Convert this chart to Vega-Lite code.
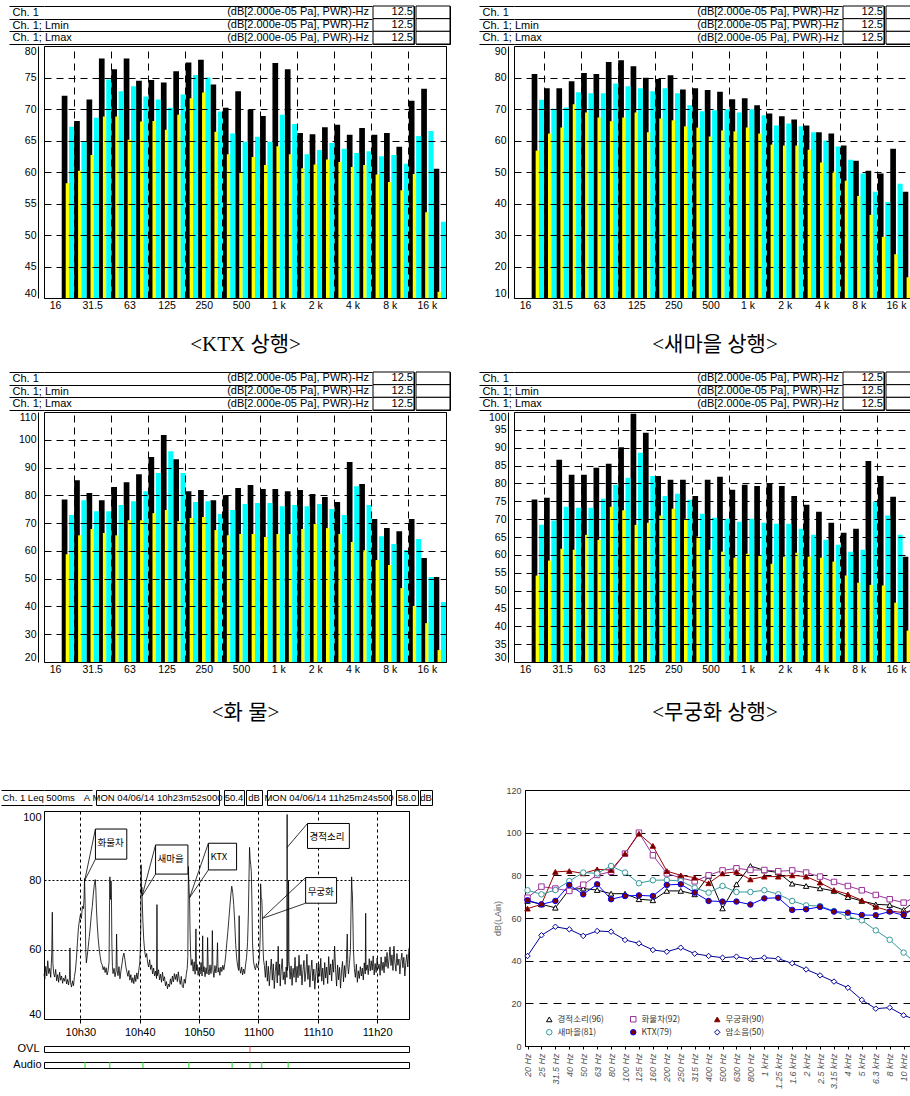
{
"$schema": "https://vega.github.io/schema/vega-lite/v6.json",
"background": "#ffffff",
"padding": {"left": 0, "top": 0, "right": 0, "bottom": 0},
"datasets": {
"hdr": [
{"row": 1, "name": "Ch.  1", "unit": "(dB[2.000e-05 Pa], PWR)-Hz", "res": "12.5"},
{"row": 2, "name": "Ch.  1; Lmin", "unit": "(dB[2.000e-05 Pa], PWR)-Hz", "res": "12.5"},
{"row": 3, "name": "Ch.  1; Lmax", "unit": "(dB[2.000e-05 Pa], PWR)-Hz", "res": "12.5"}
],
"ktx": [
{"band":"20","lmax":72.1,"lmin":58.2,"leq":67.2},{"band":"25","lmax":68.1,"lmin":60.2,"leq":64.8},{"band":"31.5","lmax":71.5,"lmin":62.7,"leq":68.6},{"band":"40","lmax":78.0,"lmin":68.8,"leq":74.7},{"band":"50","lmax":76.3,"lmin":68.8,"leq":72.8},{"band":"63","lmax":78.0,"lmin":65.1,"leq":73.6},{"band":"80","lmax":74.5,"lmin":68.0,"leq":72.0},{"band":"100","lmax":74.6,"lmin":68.1,"leq":71.5},{"band":"125","lmax":74.2,"lmin":66.7,"leq":70.2},{"band":"160","lmax":76.0,"lmin":69.1,"leq":72.3},{"band":"200","lmax":77.4,"lmin":71.7,"leq":75.4},{"band":"250","lmax":77.8,"lmin":72.6,"leq":75.0},{"band":"315","lmax":73.9,"lmin":66.4,"leq":69.6},{"band":"400","lmax":70.2,"lmin":62.8,"leq":66.1},{"band":"500","lmax":72.8,"lmin":59.9,"leq":64.8},{"band":"630","lmax":69.9,"lmin":62.4,"leq":65.6},{"band":"800","lmax":68.9,"lmin":61.1,"leq":64.8},{"band":"1 k","lmax":77.3,"lmin":64.1,"leq":69.1},{"band":"1.25 k","lmax":76.3,"lmin":62.8,"leq":67.6},{"band":"1.6 k","lmax":66.2,"lmin":60.6,"leq":62.8},{"band":"2 k","lmax":66.0,"lmin":61.2,"leq":63.5},{"band":"2.5 k","lmax":67.1,"lmin":62.0,"leq":64.6},{"band":"3.15 k","lmax":67.5,"lmin":61.6,"leq":63.7},{"band":"4 k","lmax":65.9,"lmin":60.8,"leq":63.0},{"band":"5 k","lmax":67.0,"lmin":61.1,"leq":63.3},{"band":"6.3 k","lmax":65.9,"lmin":59.6,"leq":62.5},{"band":"8 k","lmax":66.2,"lmin":58.4,"leq":62.7},{"band":"10 k","lmax":64.0,"lmin":57.1,"leq":61.3},{"band":"12.5 k","lmax":71.3,"lmin":59.7,"leq":65.7},{"band":"16 k","lmax":73.2,"lmin":53.6,"leq":66.5},{"band":"20 k","lmax":60.5,"lmin":41.0,"leq":52.1}
],
"saemaeul": [
{"band":"20","lmax":81.1,"lmin":56.8,"leq":72.9},{"band":"25","lmax":76.6,"lmin":62.2,"leq":70.1},{"band":"31.5","lmax":76.6,"lmin":64.1,"leq":70.5},{"band":"40","lmax":78.8,"lmin":71.5,"leq":75.3},{"band":"50","lmax":81.4,"lmin":68.9,"leq":75.0},{"band":"63","lmax":81.1,"lmin":67.3,"leq":75.0},{"band":"80","lmax":84.9,"lmin":66.1,"leq":78.1},{"band":"100","lmax":85.5,"lmin":67.3,"leq":77.2},{"band":"125","lmax":83.6,"lmin":68.9,"leq":76.6},{"band":"160","lmax":79.9,"lmin":62.6,"leq":75.6},{"band":"200","lmax":79.5,"lmin":67.0,"leq":76.6},{"band":"250","lmax":80.7,"lmin":66.4,"leq":75.0},{"band":"315","lmax":76.2,"lmin":64.5,"leq":71.2},{"band":"400","lmax":76.6,"lmin":64.1,"leq":69.3},{"band":"500","lmax":76.0,"lmin":61.3,"leq":69.6},{"band":"630","lmax":75.5,"lmin":63.2,"leq":69.9},{"band":"800","lmax":73.1,"lmin":62.9,"leq":68.9},{"band":"1 k","lmax":73.4,"lmin":64.1,"leq":69.9},{"band":"1.25 k","lmax":71.2,"lmin":62.2,"leq":68.0},{"band":"1.6 k","lmax":68.6,"lmin":58.7,"leq":64.8},{"band":"2 k","lmax":67.7,"lmin":58.4,"leq":65.4},{"band":"2.5 k","lmax":66.7,"lmin":58.4,"leq":64.5},{"band":"3.15 k","lmax":64.8,"lmin":57.1,"leq":62.6},{"band":"4 k","lmax":62.6,"lmin":53.0,"leq":60.0},{"band":"5 k","lmax":62.2,"lmin":50.1,"leq":58.1},{"band":"6.3 k","lmax":58.4,"lmin":47.2,"leq":53.9},{"band":"8 k","lmax":53.6,"lmin":42.4,"leq":49.5},{"band":"10 k","lmax":50.4,"lmin":36.4,"leq":43.7},{"band":"12.5 k","lmax":49.5,"lmin":29.4,"leq":40.5},{"band":"16 k","lmax":57.4,"lmin":23.9,"leq":46.3},{"band":"20 k","lmax":43.7,"lmin":16.6,"leq":31.3}
],
"freight": [
{"band":"20","lmax":78.5,"lmin":58.8,"leq":72.9},{"band":"25","lmax":85.4,"lmin":65.6,"leq":78.2},{"band":"31.5","lmax":80.8,"lmin":67.9,"leq":74.3},{"band":"40","lmax":78.2,"lmin":66.4,"leq":74.3},{"band":"50","lmax":83.0,"lmin":65.6,"leq":76.5},{"band":"63","lmax":84.7,"lmin":71.0,"leq":77.9},{"band":"80","lmax":87.6,"lmin":71.0,"leq":81.5},{"band":"100","lmax":93.8,"lmin":73.6,"leq":88.0},{"band":"125","lmax":101.7,"lmin":74.7,"leq":95.9},{"band":"160","lmax":93.0,"lmin":70.7,"leq":88.0},{"band":"200","lmax":81.5,"lmin":71.8,"leq":77.6},{"band":"250","lmax":81.9,"lmin":72.2,"leq":77.9},{"band":"315","lmax":78.2,"lmin":67.5,"leq":73.3},{"band":"400","lmax":80.0,"lmin":65.6,"leq":74.7},{"band":"500","lmax":82.6,"lmin":66.1,"leq":76.9},{"band":"630","lmax":83.7,"lmin":66.1,"leq":77.2},{"band":"800","lmax":82.3,"lmin":65.0,"leq":77.2},{"band":"1 k","lmax":82.3,"lmin":66.1,"leq":76.1},{"band":"1.25 k","lmax":81.5,"lmin":66.1,"leq":76.5},{"band":"1.6 k","lmax":81.9,"lmin":67.9,"leq":76.1},{"band":"2 k","lmax":80.5,"lmin":69.7,"leq":76.9},{"band":"2.5 k","lmax":79.4,"lmin":68.2,"leq":75.1},{"band":"3.15 k","lmax":77.6,"lmin":66.1,"leq":72.9},{"band":"4 k","lmax":92.0,"lmin":63.2,"leq":83.3},{"band":"5 k","lmax":84.1,"lmin":60.2,"leq":76.5},{"band":"6.3 k","lmax":71.5,"lmin":56.7,"leq":65.3},{"band":"8 k","lmax":68.2,"lmin":54.9,"leq":62.5},{"band":"10 k","lmax":67.1,"lmin":46.6,"leq":60.3},{"band":"12.5 k","lmax":71.5,"lmin":40.2,"leq":64.3},{"band":"16 k","lmax":57.4,"lmin":34.0,"leq":50.6},{"band":"20 k","lmax":50.6,"lmin":24.3,"leq":41.6}
],
"mugunghwa": [
{"band":"20","lmax":75.5,"lmin":54.2,"leq":68.4},{"band":"25","lmax":76.0,"lmin":58.4,"leq":69.6},{"band":"31.5","lmax":86.6,"lmin":61.7,"leq":73.5},{"band":"40","lmax":82.4,"lmin":61.4,"leq":73.2},{"band":"50","lmax":82.4,"lmin":65.6,"leq":73.2},{"band":"63","lmax":84.4,"lmin":64.2,"leq":75.7},{"band":"80","lmax":85.5,"lmin":73.5,"leq":79.6},{"band":"100","lmax":90.1,"lmin":72.5,"leq":81.6},{"band":"125","lmax":99.5,"lmin":68.4,"leq":88.6},{"band":"160","lmax":94.2,"lmin":69.0,"leq":82.1},{"band":"200","lmax":82.1,"lmin":71.0,"leq":76.5},{"band":"250","lmax":81.0,"lmin":72.9,"leq":77.1},{"band":"315","lmax":81.0,"lmin":70.1,"leq":75.4},{"band":"400","lmax":76.5,"lmin":65.1,"leq":71.5},{"band":"500","lmax":81.0,"lmin":61.4,"leq":70.4},{"band":"630","lmax":81.9,"lmin":60.9,"leq":70.1},{"band":"800","lmax":78.2,"lmin":59.2,"leq":69.3},{"band":"1 k","lmax":79.6,"lmin":60.3,"leq":70.1},{"band":"1.25 k","lmax":79.3,"lmin":59.8,"leq":69.0},{"band":"1.6 k","lmax":80.0,"lmin":57.5,"leq":68.7},{"band":"2 k","lmax":79.3,"lmin":59.5,"leq":68.7},{"band":"2.5 k","lmax":76.5,"lmin":60.6,"leq":67.3},{"band":"3.15 k","lmax":74.0,"lmin":59.5,"leq":65.6},{"band":"4 k","lmax":72.1,"lmin":59.2,"leq":64.2},{"band":"5 k","lmax":69.0,"lmin":58.1,"leq":62.8},{"band":"6.3 k","lmax":66.2,"lmin":54.2,"leq":60.9},{"band":"8 k","lmax":67.3,"lmin":52.2,"leq":61.4},{"band":"10 k","lmax":86.3,"lmin":51.6,"leq":75.0},{"band":"12.5 k","lmax":82.1,"lmin":51.4,"leq":71.0},{"band":"16 k","lmax":76.3,"lmin":46.6,"leq":65.6},{"band":"20 k","lmax":59.5,"lmin":38.8,"leq":53.3}
],
"ts": [
{"minute":23.867,"db":53.0},{"minute":24,"db":51.5},{"minute":24.167,"db":55.2},{"minute":24.333,"db":52.4},{"minute":24.5,"db":56.8},{"minute":24.667,"db":53.1},{"minute":24.833,"db":54.6},{"minute":25,"db":52.0},{"minute":25.167,"db":58.5},{"minute":25.267,"db":70.8},{"minute":25.367,"db":56.0},{"minute":25.5,"db":53.2},{"minute":25.667,"db":52.1},{"minute":25.833,"db":54.3},{"minute":26,"db":51.0},{"minute":26.167,"db":52.8},{"minute":26.333,"db":50.6},{"minute":26.5,"db":53.5},{"minute":26.667,"db":51.2},{"minute":26.833,"db":52.4},{"minute":27,"db":50.3},{"minute":27.167,"db":51.8},{"minute":27.333,"db":50.9},{"minute":27.5,"db":52.6},{"minute":27.667,"db":50.1},{"minute":27.833,"db":51.4},{"minute":28,"db":49.8},{"minute":28.167,"db":52.0},{"minute":28.233,"db":60.5},{"minute":28.333,"db":50.6},{"minute":28.5,"db":49.2},{"minute":28.667,"db":51.0},{"minute":28.833,"db":49.6},{"minute":29,"db":52.3},{"minute":29.167,"db":54.1},{"minute":29.333,"db":57.5},{"minute":29.5,"db":62.0},{"minute":29.667,"db":66.3},{"minute":29.833,"db":68.4},{"minute":30,"db":70.1},{"minute":30.167,"db":69.0},{"minute":30.333,"db":72.5},{"minute":30.5,"db":71.8},{"minute":30.6,"db":74.0},{"minute":30.7,"db":80.5},{"minute":30.8,"db":73.2},{"minute":30.9,"db":60.0},{"minute":31,"db":56.2},{"minute":31.167,"db":58.4},{"minute":31.333,"db":61.0},{"minute":31.5,"db":63.8},{"minute":31.667,"db":66.5},{"minute":31.833,"db":69.9},{"minute":32,"db":72.4},{"minute":32.167,"db":75.8},{"minute":32.333,"db":78.6},{"minute":32.5,"db":80.2},{"minute":32.6,"db":77.5},{"minute":32.7,"db":72.0},{"minute":32.833,"db":67.4},{"minute":33,"db":63.1},{"minute":33.167,"db":60.2},{"minute":33.333,"db":58.0},{"minute":33.5,"db":56.3},{"minute":33.667,"db":55.6},{"minute":33.833,"db":54.2},{"minute":34,"db":55.1},{"minute":34.167,"db":53.4},{"minute":34.333,"db":54.8},{"minute":34.5,"db":52.7},{"minute":34.667,"db":53.9},{"minute":34.833,"db":56.5},{"minute":34.9,"db":72.0},{"minute":34.967,"db":81.0},{"minute":35.033,"db":76.0},{"minute":35.1,"db":74.5},{"minute":35.167,"db":79.8},{"minute":35.233,"db":75.0},{"minute":35.3,"db":62.0},{"minute":35.4,"db":55.2},{"minute":35.5,"db":53.1},{"minute":35.667,"db":54.6},{"minute":35.833,"db":52.2},{"minute":36,"db":53.8},{"minute":36.1,"db":64.5},{"minute":36.2,"db":54.0},{"minute":36.333,"db":52.5},{"minute":36.5,"db":55.1},{"minute":36.667,"db":51.6},{"minute":36.833,"db":53.9},{"minute":37,"db":55.8},{"minute":37.167,"db":57.9},{"minute":37.333,"db":59.0},{"minute":37.5,"db":57.2},{"minute":37.667,"db":55.0},{"minute":37.833,"db":53.6},{"minute":38,"db":52.3},{"minute":38.167,"db":54.0},{"minute":38.333,"db":51.2},{"minute":38.5,"db":52.8},{"minute":38.667,"db":50.5},{"minute":38.833,"db":51.9},{"minute":39,"db":50.2},{"minute":39.167,"db":52.7},{"minute":39.333,"db":50.8},{"minute":39.5,"db":53.3},{"minute":39.667,"db":51.5},{"minute":39.833,"db":54.0},{"minute":40,"db":56.2},{"minute":40.1,"db":60.0},{"minute":40.167,"db":66.0},{"minute":40.233,"db":84.5},{"minute":40.3,"db":76.0},{"minute":40.367,"db":78.0},{"minute":40.433,"db":73.5},{"minute":40.533,"db":68.0},{"minute":40.667,"db":63.0},{"minute":40.833,"db":59.5},{"minute":41,"db":57.8},{"minute":41.167,"db":58.9},{"minute":41.333,"db":56.2},{"minute":41.5,"db":55.0},{"minute":41.667,"db":57.1},{"minute":41.833,"db":54.3},{"minute":42,"db":55.6},{"minute":42.167,"db":53.0},{"minute":42.333,"db":54.7},{"minute":42.5,"db":52.4},{"minute":42.667,"db":53.8},{"minute":42.833,"db":51.7},{"minute":42.9,"db":73.0},{"minute":42.967,"db":52.5},{"minute":43.167,"db":54.2},{"minute":43.333,"db":51.3},{"minute":43.5,"db":52.9},{"minute":43.667,"db":50.6},{"minute":43.833,"db":53.5},{"minute":44,"db":51.0},{"minute":44.167,"db":52.2},{"minute":44.333,"db":49.6},{"minute":44.5,"db":50.8},{"minute":44.667,"db":48.7},{"minute":44.833,"db":50.1},{"minute":45,"db":49.3},{"minute":45.167,"db":51.6},{"minute":45.333,"db":50.0},{"minute":45.5,"db":52.4},{"minute":45.667,"db":50.7},{"minute":45.833,"db":53.1},{"minute":46,"db":51.4},{"minute":46.167,"db":52.9},{"minute":46.333,"db":50.8},{"minute":46.5,"db":53.6},{"minute":46.667,"db":51.2},{"minute":46.833,"db":50.0},{"minute":47,"db":52.3},{"minute":47.167,"db":49.4},{"minute":47.333,"db":49.0},{"minute":47.5,"db":51.5},{"minute":47.667,"db":50.3},{"minute":47.833,"db":52.8},{"minute":48,"db":54.6},{"minute":48.1,"db":58.0},{"minute":48.2,"db":84.0},{"minute":48.267,"db":79.5},{"minute":48.333,"db":76.5},{"minute":48.4,"db":75.0},{"minute":48.467,"db":66.0},{"minute":48.567,"db":59.0},{"minute":48.667,"db":55.5},{"minute":48.833,"db":57.2},{"minute":49,"db":53.8},{"minute":49.167,"db":56.5},{"minute":49.333,"db":52.9},{"minute":49.467,"db":66.0},{"minute":49.567,"db":54.0},{"minute":49.667,"db":55.7},{"minute":49.833,"db":52.6},{"minute":50,"db":54.9},{"minute":50.167,"db":53.0},{"minute":50.333,"db":56.3},{"minute":50.5,"db":52.4},{"minute":50.6,"db":64.0},{"minute":50.7,"db":53.6},{"minute":50.833,"db":55.1},{"minute":51,"db":52.2},{"minute":51.167,"db":54.8},{"minute":51.333,"db":53.0},{"minute":51.433,"db":63.5},{"minute":51.533,"db":54.5},{"minute":51.667,"db":52.7},{"minute":51.833,"db":55.6},{"minute":52,"db":53.1},{"minute":52.167,"db":56.0},{"minute":52.233,"db":65.5},{"minute":52.333,"db":54.2},{"minute":52.5,"db":52.0},{"minute":52.667,"db":55.4},{"minute":52.833,"db":53.3},{"minute":53,"db":55.9},{"minute":53.1,"db":62.0},{"minute":53.2,"db":53.5},{"minute":53.333,"db":54.8},{"minute":53.5,"db":52.6},{"minute":53.667,"db":55.0},{"minute":53.833,"db":53.7},{"minute":54,"db":55.5},{"minute":54.167,"db":54.2},{"minute":54.333,"db":56.0},{"minute":54.5,"db":58.5},{"minute":54.667,"db":62.0},{"minute":54.833,"db":65.0},{"minute":55,"db":68.5},{"minute":55.167,"db":72.0},{"minute":55.333,"db":75.5},{"minute":55.5,"db":78.3},{"minute":55.667,"db":76.5},{"minute":55.833,"db":73.0},{"minute":56,"db":68.0},{"minute":56.167,"db":61.5},{"minute":56.333,"db":57.5},{"minute":56.5,"db":55.2},{"minute":56.667,"db":54.0},{"minute":56.75,"db":69.8},{"minute":56.833,"db":54.8},{"minute":57,"db":53.2},{"minute":57.167,"db":55.0},{"minute":57.333,"db":52.7},{"minute":57.5,"db":54.4},{"minute":57.667,"db":53.1},{"minute":57.833,"db":55.6},{"minute":58,"db":57.8},{"minute":58.167,"db":62.0},{"minute":58.3,"db":70.0},{"minute":58.4,"db":80.0},{"minute":58.5,"db":89.5},{"minute":58.6,"db":86.0},{"minute":58.7,"db":84.5},{"minute":58.8,"db":82.5},{"minute":58.9,"db":74.0},{"minute":59,"db":62.0},{"minute":59.167,"db":56.5},{"minute":59.333,"db":55.0},{"minute":59.5,"db":54.2},{"minute":59.667,"db":56.0},{"minute":59.833,"db":54.8},{"minute":60,"db":55.5},{"minute":60.167,"db":58.0},{"minute":60.3,"db":64.0},{"minute":60.367,"db":79.0},{"minute":60.467,"db":75.0},{"minute":60.567,"db":74.5},{"minute":60.667,"db":69.0},{"minute":60.767,"db":61.0},{"minute":60.867,"db":57.0},{"minute":61,"db":55.4},{"minute":61.167,"db":52.0},{"minute":61.333,"db":56.8},{"minute":61.5,"db":50.9},{"minute":61.667,"db":55.2},{"minute":61.833,"db":49.6},{"minute":62,"db":54.0},{"minute":62.167,"db":57.3},{"minute":62.333,"db":51.2},{"minute":62.5,"db":55.9},{"minute":62.667,"db":48.8},{"minute":62.833,"db":53.7},{"minute":63,"db":56.5},{"minute":63.167,"db":50.4},{"minute":63.333,"db":61.0},{"minute":63.433,"db":52.6},{"minute":63.567,"db":55.8},{"minute":63.667,"db":49.5},{"minute":63.833,"db":54.1},{"minute":64,"db":57.4},{"minute":64.167,"db":51.3},{"minute":64.333,"db":53.6},{"minute":64.5,"db":50.0},{"minute":64.667,"db":55.0},{"minute":64.8,"db":52.0},{"minute":64.833,"db":99.0},{"minute":64.867,"db":54.0},{"minute":65,"db":56.0},{"minute":65.067,"db":80.0},{"minute":65.1,"db":74.0},{"minute":65.133,"db":57.0},{"minute":65.333,"db":51.5},{"minute":65.5,"db":55.3},{"minute":65.667,"db":49.7},{"minute":65.833,"db":54.6},{"minute":66,"db":52.0},{"minute":66.167,"db":57.8},{"minute":66.333,"db":50.6},{"minute":66.5,"db":55.2},{"minute":66.667,"db":51.9},{"minute":66.833,"db":58.4},{"minute":67,"db":52.5},{"minute":67.167,"db":55.7},{"minute":67.333,"db":49.8},{"minute":67.5,"db":54.0},{"minute":67.667,"db":56.9},{"minute":67.833,"db":50.8},{"minute":68,"db":53.6},{"minute":68.167,"db":58.7},{"minute":68.333,"db":51.4},{"minute":68.5,"db":55.5},{"minute":68.667,"db":49.2},{"minute":68.833,"db":53.8},{"minute":69,"db":57.0},{"minute":69.167,"db":51.0},{"minute":69.333,"db":54.4},{"minute":69.5,"db":48.6},{"minute":69.667,"db":53.2},{"minute":69.833,"db":56.1},{"minute":70,"db":50.4},{"minute":70.167,"db":55.8},{"minute":70.333,"db":52.3},{"minute":70.5,"db":57.5},{"minute":70.667,"db":50.9},{"minute":70.833,"db":54.7},{"minute":71,"db":49.9},{"minute":71.167,"db":56.3},{"minute":71.333,"db":51.8},{"minute":71.5,"db":55.0},{"minute":71.667,"db":50.2},{"minute":71.833,"db":58.0},{"minute":72,"db":52.7},{"minute":72.167,"db":55.9},{"minute":72.333,"db":51.0},{"minute":72.5,"db":57.1},{"minute":72.667,"db":53.5},{"minute":72.833,"db":61.0},{"minute":73,"db":54.2},{"minute":73.167,"db":49.5},{"minute":73.333,"db":55.6},{"minute":73.5,"db":51.3},{"minute":73.667,"db":54.9},{"minute":73.833,"db":48.9},{"minute":74,"db":53.8},{"minute":74.167,"db":56.6},{"minute":74.333,"db":50.7},{"minute":74.5,"db":55.4},{"minute":74.667,"db":52.0},{"minute":74.833,"db":57.2},{"minute":74.967,"db":64.5},{"minute":75.067,"db":55.0},{"minute":75.167,"db":53.0},{"minute":75.333,"db":56.0},{"minute":75.5,"db":60.0},{"minute":75.6,"db":72.0},{"minute":75.7,"db":81.0},{"minute":75.767,"db":77.5},{"minute":75.833,"db":76.0},{"minute":75.9,"db":70.0},{"minute":76,"db":60.0},{"minute":76.167,"db":54.5},{"minute":76.333,"db":52.0},{"minute":76.5,"db":55.8},{"minute":76.667,"db":50.6},{"minute":76.833,"db":53.9},{"minute":77,"db":51.7},{"minute":77.167,"db":55.1},{"minute":77.333,"db":52.4},{"minute":77.5,"db":54.7},{"minute":77.667,"db":51.3},{"minute":77.833,"db":56.2},{"minute":78,"db":53.0},{"minute":78.067,"db":70.5},{"minute":78.133,"db":54.0},{"minute":78.333,"db":55.6},{"minute":78.5,"db":52.8},{"minute":78.667,"db":57.4},{"minute":78.833,"db":53.9},{"minute":79,"db":56.8},{"minute":79.167,"db":54.1},{"minute":79.333,"db":58.2},{"minute":79.5,"db":52.7},{"minute":79.667,"db":56.0},{"minute":79.833,"db":53.4},{"minute":80,"db":57.6},{"minute":80.167,"db":54.5},{"minute":80.333,"db":55.8},{"minute":80.5,"db":52.6},{"minute":80.667,"db":57.9},{"minute":80.833,"db":54.0},{"minute":81,"db":56.4},{"minute":81.167,"db":53.3},{"minute":81.333,"db":58.0},{"minute":81.5,"db":55.1},{"minute":81.667,"db":59.2},{"minute":81.833,"db":54.6},{"minute":82,"db":57.0},{"minute":82.167,"db":60.8},{"minute":82.333,"db":55.4},{"minute":82.5,"db":58.5},{"minute":82.667,"db":54.0},{"minute":82.833,"db":61.0},{"minute":83,"db":56.2},{"minute":83.167,"db":53.8},{"minute":83.333,"db":58.9},{"minute":83.5,"db":55.5},{"minute":83.667,"db":57.3},{"minute":83.833,"db":53.0},{"minute":84,"db":56.7},{"minute":84.167,"db":59.0},{"minute":84.333,"db":54.8},{"minute":84.5,"db":57.8},{"minute":84.667,"db":52.4},{"minute":84.833,"db":56.3},{"minute":85,"db":58.6},{"minute":85.167,"db":55.0},{"minute":85.367,"db":60.5}
],
"ann": [
{"label":"화물차","minute":30.733,"db":80.0,"bt1":32.533,"bt2":37.817,"bdb1":94.8,"bdb2":86.1},
{"label":"새마을","minute":40.4,"db":75.5,"bt1":42.667,"bt2":48.117,"bdb1":90.2,"bdb2":81.8},
{"label":"KTX","minute":48.4,"db":75.0,"bt1":51.567,"bt2":56.317,"bdb1":90.7,"bdb2":83.0},
{"label":"경적소리","minute":64.833,"db":89.5,"bt1":68.267,"bt2":75.317,"bdb1":96.4,"bdb2":89.2},
{"label":"무궁화","minute":60.633,"db":69.0,"bt1":67.95,"bt2":73.167,"bdb1":80.8,"bdb2":73.4}
],
"spec": [
{"band":"20 Hz","경적소리(96)":68.0,"화물차(92)":69.5,"무궁화(90)":64.4,"새마을(81)":73.0,"KTX(79)":68.3,"암소음(50)":42.2},
{"band":"25 Hz","경적소리(96)":66.4,"화물차(92)":74.7,"무궁화(90)":66.4,"새마을(81)":71.1,"KTX(79)":66.4,"암소음(50)":51.9},
{"band":"31.5 Hz","경적소리(96)":64.8,"화물차(92)":73.8,"무궁화(90)":81.6,"새마을(81)":73.1,"KTX(79)":68.0,"암소음(50)":55.9},
{"band":"40 Hz","경적소리(96)":73.4,"화물차(92)":72.7,"무궁화(90)":82.0,"새마을(81)":77.3,"KTX(79)":75.5,"암소음(50)":54.7},
{"band":"50 Hz","경적소리(96)":73.8,"화물차(92)":75.6,"무궁화(90)":80.9,"새마을(81)":81.3,"KTX(79)":71.1,"암소음(50)":51.6},
{"band":"63 Hz","경적소리(96)":73.1,"화물차(92)":80.2,"무궁화(90)":82.8,"새마을(81)":80.9,"KTX(79)":75.8,"암소음(50)":53.9},
{"band":"80 Hz","경적소리(96)":71.4,"화물차(92)":81.7,"무궁화(90)":82.5,"새마을(81)":84.4,"KTX(79)":68.8,"암소음(50)":53.6},
{"band":"100 Hz","경적소리(96)":71.4,"화물차(92)":90.2,"무궁화(90)":90.2,"새마을(81)":81.3,"KTX(79)":70.3,"암소음(50)":49.7},
{"band":"125 Hz","경적소리(96)":68.8,"화물차(92)":100.0,"무궁화(90)":99.5,"새마을(81)":76.3,"KTX(79)":70.6,"암소음(50)":48.1},
{"band":"160 Hz","경적소리(96)":68.3,"화물차(92)":89.4,"무궁화(90)":93.8,"새마을(81)":77.7,"KTX(79)":70.3,"암소음(50)":45.0},
{"band":"200 Hz","경적소리(96)":72.7,"화물차(92)":80.9,"무궁화(90)":82.0,"새마을(81)":77.8,"KTX(79)":75.5,"암소음(50)":44.2},
{"band":"250 Hz","경적소리(96)":72.7,"화물차(92)":78.8,"무궁화(90)":80.0,"새마을(81)":77.3,"KTX(79)":75.8,"암소음(50)":46.1},
{"band":"315 Hz","경적소리(96)":71.1,"화물차(92)":77.2,"무궁화(90)":78.9,"새마을(81)":74.2,"KTX(79)":71.9,"암소음(50)":43.3},
{"band":"400 Hz","경적소리(96)":79.7,"화물차(92)":80.0,"무궁화(90)":76.3,"새마을(81)":71.9,"KTX(79)":68.0,"암소음(50)":42.2},
{"band":"500 Hz","경적소리(96)":64.5,"화물차(92)":82.3,"무궁화(90)":80.9,"새마을(81)":75.0,"KTX(79)":67.7,"암소음(50)":41.4},
{"band":"630 Hz","경적소리(96)":75.8,"화물차(92)":83.3,"무궁화(90)":81.6,"새마을(81)":72.2,"KTX(79)":67.7,"암소음(50)":41.9},
{"band":"800 Hz","경적소리(96)":84.4,"화물차(92)":82.5,"무궁화(90)":78.1,"새마을(81)":72.2,"KTX(79)":66.3,"암소음(50)":40.6},
{"band":"1 kHz","경적소리(96)":82.3,"화물차(92)":82.5,"무궁화(90)":79.4,"새마을(81)":73.0,"KTX(79)":69.2,"암소음(50)":41.4},
{"band":"1.25 kHz","경적소리(96)":81.3,"화물차(92)":81.9,"무궁화(90)":79.4,"새마을(81)":71.1,"KTX(79)":69.5,"암소음(50)":40.9},
{"band":"1.6 kHz","경적소리(96)":76.1,"화물차(92)":82.3,"무궁화(90)":80.0,"새마을(81)":68.0,"KTX(79)":63.8,"암소음(50)":38.8},
{"band":"2 kHz","경적소리(96)":75.0,"화물차(92)":81.3,"무궁화(90)":79.4,"새마을(81)":65.9,"KTX(79)":64.1,"암소음(50)":35.9},
{"band":"2.5 kHz","경적소리(96)":73.9,"화물차(92)":79.4,"무궁화(90)":76.6,"새마을(81)":65.6,"KTX(79)":65.2,"암소음(50)":33.1},
{"band":"3.15 kHz","경적소리(96)":72.7,"화물차(92)":76.9,"무궁화(90)":73.1,"새마을(81)":63.3,"KTX(79)":63.0,"암소음(50)":30.2},
{"band":"4 kHz","경적소리(96)":69.8,"화물차(92)":75.0,"무궁화(90)":71.1,"새마을(81)":60.6,"KTX(79)":62.5,"암소음(50)":27.3},
{"band":"5 kHz","경적소리(96)":68.0,"화물차(92)":73.0,"무궁화(90)":68.3,"새마을(81)":58.9,"KTX(79)":61.4,"암소음(50)":21.6},
{"band":"6.3 kHz","경적소리(96)":66.4,"화물차(92)":70.8,"무궁화(90)":65.2,"새마을(81)":54.2,"KTX(79)":61.3,"암소음(50)":17.5},
{"band":"8 kHz","경적소리(96)":66.1,"화물차(92)":68.8,"무궁화(90)":63.3,"새마을(81)":49.8,"KTX(79)":63.0,"암소음(50)":18.0},
{"band":"10 kHz","경적소리(96)":63.8,"화물차(92)":67.2,"무궁화(90)":62.5,"새마을(81)":43.8,"KTX(79)":61.3,"암소음(50)":14.4},
{"band":"12.5 kHz","경적소리(96)":68.8,"화물차(92)":70.3,"무궁화(90)":64.4,"새마을(81)":38.0,"KTX(79)":65.6,"암소음(50)":12.0},
{"band":"16 kHz","경적소리(96)":62.5,"화물차(92)":57.5,"무궁화(90)":59.4,"새마을(81)":32.0,"KTX(79)":63.0,"암소음(50)":11.3}
]
},
"vconcat": [
{"vconcat": [
{"hconcat": [
{"vconcat": [
{"hconcat": [
{"width": 328, "height": 38, "data": {"name": "hdr"}, "view": {"stroke": null},
"mark": {"type": "text", "align": "right", "dx": -3, "font": "Liberation Sans", "fontSize": 11, "color": "#000000"},
"encoding": {"y": {"field": "name", "type": "ordinal", "sort": null, "scale": {"type": "band", "paddingInner": 0, "paddingOuter": 0}, "axis": {"title": null, "domain": false, "ticks": true, "tickBand": "extent", "tickSize": 35, "tickColor": "#000000", "grid": true, "gridColor": "#000000", "gridOpacity": 1, "labelAlign": "left", "labelPadding": -3, "labelFont": "Liberation Sans", "labelFontSize": 11, "labelColor": "#000000", "labelLimit": 0, "zindex": 1}},
"x": {"datum": 1, "type": "quantitative", "scale": {"domain": [0, 1]}, "axis": null}, "text": {"field": "unit"}}},
{"width": 41, "height": 38, "data": {"name": "hdr"}, "encoding": {"y": {"field": "row", "type": "ordinal", "axis": null}},
"layer": [
{"mark": {"type": "rect", "fill": "#ffffff", "stroke": "#000000", "strokeWidth": 1}, "encoding": {"x": {"datum": 0, "type": "quantitative", "scale": {"domain": [0, 1]}, "axis": null}, "x2": {"datum": 1}}},
{"mark": {"type": "text", "align": "right", "dx": -1, "font": "Liberation Sans", "fontSize": 11, "color": "#000000"}, "encoding": {"x": {"datum": 1, "type": "quantitative", "axis": null}, "text": {"field": "res"}}}
]},
{"width": 34, "height": 38, "data": {"name": "hdr"}, "mark": {"type": "rect", "fill": "#ffffff", "stroke": "#000000", "strokeWidth": 1},
"encoding": {"y": {"field": "row", "type": "ordinal", "axis": null}, "x": {"datum": 0, "type": "quantitative", "scale": {"domain": [0, 1]}, "axis": null}, "x2": {"datum": 1}}}
], "spacing": 0},
{"width": 402, "height": 252, "data": {"name": "ktx"},
"transform": [{"fold": ["lmax", "lmin", "leq"], "as": ["series", "db"]}],
"encoding": {"y": {"field": "db", "type": "quantitative", "scale": {"domain": [40, 80], "zero": false, "nice": false},
"axis": {"values": [40,45,50,55,60,65,70,75,80], "title": null, "offset": 6, "ticks": false, "labelPadding": 2, "labelFlush": true, "labelFont": "Liberation Sans", "labelFontSize": 10.5, "labelColor": "#000000", "domainColor": "#000000", "grid": true, "gridColor": "#000000", "gridDash": [7, 5], "gridOpacity": 1, "zindex": 1}}},
"layer": [
{"transform": [{"filter": "datum.series === 'lmax'"}], "mark": {"type": "bar", "color": "#000000", "width": {"band": 0.46}, "xOffset": -3.35, "clip": true},
"encoding": {"x": {"field": "band", "type": "ordinal", "scale": {"domain": ["16","20","25","31.5","40","50","63","80","100","125","160","200","250","315","400","500","630","800","1 k","1.25 k","1.6 k","2 k","2.5 k","3.15 k","4 k","5 k","6.3 k","8 k","10 k","12.5 k","16 k","20 k"], "paddingInner": 0, "paddingOuter": 0.215, "align": 1},
"axis": {"orient": "bottom", "values": ["16","31.5","63","125","250","500","1 k","2 k","4 k","8 k","16 k"], "labelAngle": 0, "labelOverlap": false, "ticks": false, "domain": false, "grid": false, "labelPadding": 2, "labelFont": "Liberation Sans Narrow, Liberation Sans", "labelFontSize": 10.5, "labelColor": "#000000", "title": "<KTX 상행>\u00a0\u00a0\u00a0\u00a0\u00a0\u00a0\u00a0\u00a0\u00a0\u00a0\u00a0", "titleFont": "Liberation Serif, Noto Sans CJK KR", "titleFontSize": 21, "titleFontWeight": "normal", "titleColor": "#000000", "titlePadding": 23}}}},
{"transform": [{"filter": "datum.series === 'lmin'"}], "mark": {"type": "bar", "color": "#ffff00", "width": {"band": 0.27}, "xOffset": -0.55, "clip": true},
"encoding": {"x": {"field": "band", "type": "ordinal", "axis": {"orient": "top", "values": ["25","50","100","200","400","800","1.6 k","3.15 k","6.3 k","12.5 k"], "bandPosition": 0, "grid": true, "gridColor": "#000000", "gridDash": [7, 5], "gridOpacity": 1, "labels": false, "ticks": false, "domain": false, "title": null, "zindex": 1}}}},
{"transform": [{"filter": "datum.series === 'leq'"}], "mark": {"type": "bar", "color": "#00ffff", "width": {"band": 0.41}, "xOffset": 3.65, "clip": true},
"encoding": {"x": {"field": "band", "type": "ordinal", "axis": null}}}
],
"resolve": {"axis": {"x": "independent"}}}
], "spacing": 0},
{"vconcat": [
{"hconcat": [
{"width": 328, "height": 38, "data": {"name": "hdr"}, "view": {"stroke": null},
"mark": {"type": "text", "align": "right", "dx": -3, "font": "Liberation Sans", "fontSize": 11, "color": "#000000"},
"encoding": {"y": {"field": "name", "type": "ordinal", "sort": null, "scale": {"type": "band", "paddingInner": 0, "paddingOuter": 0}, "axis": {"title": null, "domain": false, "ticks": true, "tickBand": "extent", "tickSize": 35, "tickColor": "#000000", "grid": true, "gridColor": "#000000", "gridOpacity": 1, "labelAlign": "left", "labelPadding": -3, "labelFont": "Liberation Sans", "labelFontSize": 11, "labelColor": "#000000", "labelLimit": 0, "zindex": 1}},
"x": {"datum": 1, "type": "quantitative", "scale": {"domain": [0, 1]}, "axis": null}, "text": {"field": "unit"}}},
{"width": 41, "height": 38, "data": {"name": "hdr"}, "encoding": {"y": {"field": "row", "type": "ordinal", "axis": null}},
"layer": [
{"mark": {"type": "rect", "fill": "#ffffff", "stroke": "#000000", "strokeWidth": 1}, "encoding": {"x": {"datum": 0, "type": "quantitative", "scale": {"domain": [0, 1]}, "axis": null}, "x2": {"datum": 1}}},
{"mark": {"type": "text", "align": "right", "dx": -1, "font": "Liberation Sans", "fontSize": 11, "color": "#000000"}, "encoding": {"x": {"datum": 1, "type": "quantitative", "axis": null}, "text": {"field": "res"}}}
]},
{"width": 32, "height": 38, "data": {"name": "hdr"}, "mark": {"type": "rect", "fill": "#ffffff", "stroke": "#000000", "strokeWidth": 1},
"encoding": {"y": {"field": "row", "type": "ordinal", "axis": null}, "x": {"datum": 0, "type": "quantitative", "scale": {"domain": [0, 1]}, "axis": null}, "x2": {"datum": 1}}}
], "spacing": 0},
{"width": 401, "height": 252, "data": {"name": "saemaeul"},
"transform": [{"fold": ["lmax", "lmin", "leq"], "as": ["series", "db"]}],
"encoding": {"y": {"field": "db", "type": "quantitative", "scale": {"domain": [10, 90], "zero": false, "nice": false},
"axis": {"values": [10,20,30,40,50,60,70,80,90], "title": null, "offset": 6, "ticks": false, "labelPadding": 2, "labelFlush": true, "labelFont": "Liberation Sans", "labelFontSize": 10.5, "labelColor": "#000000", "domainColor": "#000000", "grid": true, "gridColor": "#000000", "gridDash": [7, 5], "gridOpacity": 1, "zindex": 1}}},
"layer": [
{"transform": [{"filter": "datum.series === 'lmax'"}], "mark": {"type": "bar", "color": "#000000", "width": {"band": 0.46}, "xOffset": -3.35, "clip": true},
"encoding": {"x": {"field": "band", "type": "ordinal", "scale": {"domain": ["16","20","25","31.5","40","50","63","80","100","125","160","200","250","315","400","500","630","800","1 k","1.25 k","1.6 k","2 k","2.5 k","3.15 k","4 k","5 k","6.3 k","8 k","10 k","12.5 k","16 k","20 k"], "paddingInner": 0, "paddingOuter": 0.215, "align": 1},
"axis": {"orient": "bottom", "values": ["16","31.5","63","125","250","500","1 k","2 k","4 k","8 k","16 k"], "labelAngle": 0, "labelOverlap": false, "ticks": false, "domain": false, "grid": false, "labelPadding": 2, "labelFont": "Liberation Sans Narrow, Liberation Sans", "labelFontSize": 10.5, "labelColor": "#000000", "title": "<새마을 상행>", "titleFont": "Liberation Serif, Noto Sans CJK KR", "titleFontSize": 21, "titleFontWeight": "normal", "titleColor": "#000000", "titlePadding": 23}}}},
{"transform": [{"filter": "datum.series === 'lmin'"}], "mark": {"type": "bar", "color": "#ffff00", "width": {"band": 0.27}, "xOffset": -0.55, "clip": true},
"encoding": {"x": {"field": "band", "type": "ordinal", "axis": {"orient": "top", "values": ["25","50","100","200","400","800","1.6 k","3.15 k","6.3 k","12.5 k"], "bandPosition": 0, "grid": true, "gridColor": "#000000", "gridDash": [7, 5], "gridOpacity": 1, "labels": false, "ticks": false, "domain": false, "title": null, "zindex": 1}}}},
{"transform": [{"filter": "datum.series === 'leq'"}], "mark": {"type": "bar", "color": "#00ffff", "width": {"band": 0.41}, "xOffset": 3.65, "clip": true},
"encoding": {"x": {"field": "band", "type": "ordinal", "axis": null}}}
],
"resolve": {"axis": {"x": "independent"}}}
], "spacing": 0}
], "spacing": 27},
{"hconcat": [
{"vconcat": [
{"hconcat": [
{"width": 328, "height": 38, "data": {"name": "hdr"}, "view": {"stroke": null},
"mark": {"type": "text", "align": "right", "dx": -3, "font": "Liberation Sans", "fontSize": 11, "color": "#000000"},
"encoding": {"y": {"field": "name", "type": "ordinal", "sort": null, "scale": {"type": "band", "paddingInner": 0, "paddingOuter": 0}, "axis": {"title": null, "domain": false, "ticks": true, "tickBand": "extent", "tickSize": 35, "tickColor": "#000000", "grid": true, "gridColor": "#000000", "gridOpacity": 1, "labelAlign": "left", "labelPadding": -3, "labelFont": "Liberation Sans", "labelFontSize": 11, "labelColor": "#000000", "labelLimit": 0, "zindex": 1}},
"x": {"datum": 1, "type": "quantitative", "scale": {"domain": [0, 1]}, "axis": null}, "text": {"field": "unit"}}},
{"width": 41, "height": 38, "data": {"name": "hdr"}, "encoding": {"y": {"field": "row", "type": "ordinal", "axis": null}},
"layer": [
{"mark": {"type": "rect", "fill": "#ffffff", "stroke": "#000000", "strokeWidth": 1}, "encoding": {"x": {"datum": 0, "type": "quantitative", "scale": {"domain": [0, 1]}, "axis": null}, "x2": {"datum": 1}}},
{"mark": {"type": "text", "align": "right", "dx": -1, "font": "Liberation Sans", "fontSize": 11, "color": "#000000"}, "encoding": {"x": {"datum": 1, "type": "quantitative", "axis": null}, "text": {"field": "res"}}}
]},
{"width": 34, "height": 38, "data": {"name": "hdr"}, "mark": {"type": "rect", "fill": "#ffffff", "stroke": "#000000", "strokeWidth": 1},
"encoding": {"y": {"field": "row", "type": "ordinal", "axis": null}, "x": {"datum": 0, "type": "quantitative", "scale": {"domain": [0, 1]}, "axis": null}, "x2": {"datum": 1}}}
], "spacing": 0},
{"width": 402, "height": 250, "data": {"name": "freight"},
"transform": [{"fold": ["lmax", "lmin", "leq"], "as": ["series", "db"]}],
"encoding": {"y": {"field": "db", "type": "quantitative", "scale": {"domain": [20, 110], "zero": false, "nice": false},
"axis": {"values": [20,30,40,50,60,70,80,90,100,110], "title": null, "offset": 6, "ticks": false, "labelPadding": 2, "labelFlush": true, "labelFont": "Liberation Sans", "labelFontSize": 10.5, "labelColor": "#000000", "domainColor": "#000000", "grid": true, "gridColor": "#000000", "gridDash": [7, 5], "gridOpacity": 1, "zindex": 1}}},
"layer": [
{"transform": [{"filter": "datum.series === 'lmax'"}], "mark": {"type": "bar", "color": "#000000", "width": {"band": 0.46}, "xOffset": -3.35, "clip": true},
"encoding": {"x": {"field": "band", "type": "ordinal", "scale": {"domain": ["16","20","25","31.5","40","50","63","80","100","125","160","200","250","315","400","500","630","800","1 k","1.25 k","1.6 k","2 k","2.5 k","3.15 k","4 k","5 k","6.3 k","8 k","10 k","12.5 k","16 k","20 k"], "paddingInner": 0, "paddingOuter": 0.215, "align": 1},
"axis": {"orient": "bottom", "values": ["16","31.5","63","125","250","500","1 k","2 k","4 k","8 k","16 k"], "labelAngle": 0, "labelOverlap": false, "ticks": false, "domain": false, "grid": false, "labelPadding": 2, "labelFont": "Liberation Sans Narrow, Liberation Sans", "labelFontSize": 10.5, "labelColor": "#000000", "title": "<화 물>", "titleFont": "Liberation Serif, Noto Sans CJK KR", "titleFontSize": 21, "titleFontWeight": "normal", "titleColor": "#000000", "titlePadding": 27}}}},
{"transform": [{"filter": "datum.series === 'lmin'"}], "mark": {"type": "bar", "color": "#ffff00", "width": {"band": 0.27}, "xOffset": -0.55, "clip": true},
"encoding": {"x": {"field": "band", "type": "ordinal", "axis": {"orient": "top", "values": ["25","50","100","200","400","800","1.6 k","3.15 k","6.3 k","12.5 k"], "bandPosition": 0, "grid": true, "gridColor": "#000000", "gridDash": [7, 5], "gridOpacity": 1, "labels": false, "ticks": false, "domain": false, "title": null, "zindex": 1}}}},
{"transform": [{"filter": "datum.series === 'leq'"}], "mark": {"type": "bar", "color": "#00ffff", "width": {"band": 0.41}, "xOffset": 3.65, "clip": true},
"encoding": {"x": {"field": "band", "type": "ordinal", "axis": null}}}
],
"resolve": {"axis": {"x": "independent"}}}
], "spacing": 0},
{"vconcat": [
{"hconcat": [
{"width": 328, "height": 38, "data": {"name": "hdr"}, "view": {"stroke": null},
"mark": {"type": "text", "align": "right", "dx": -3, "font": "Liberation Sans", "fontSize": 11, "color": "#000000"},
"encoding": {"y": {"field": "name", "type": "ordinal", "sort": null, "scale": {"type": "band", "paddingInner": 0, "paddingOuter": 0}, "axis": {"title": null, "domain": false, "ticks": true, "tickBand": "extent", "tickSize": 35, "tickColor": "#000000", "grid": true, "gridColor": "#000000", "gridOpacity": 1, "labelAlign": "left", "labelPadding": -3, "labelFont": "Liberation Sans", "labelFontSize": 11, "labelColor": "#000000", "labelLimit": 0, "zindex": 1}},
"x": {"datum": 1, "type": "quantitative", "scale": {"domain": [0, 1]}, "axis": null}, "text": {"field": "unit"}}},
{"width": 41, "height": 38, "data": {"name": "hdr"}, "encoding": {"y": {"field": "row", "type": "ordinal", "axis": null}},
"layer": [
{"mark": {"type": "rect", "fill": "#ffffff", "stroke": "#000000", "strokeWidth": 1}, "encoding": {"x": {"datum": 0, "type": "quantitative", "scale": {"domain": [0, 1]}, "axis": null}, "x2": {"datum": 1}}},
{"mark": {"type": "text", "align": "right", "dx": -1, "font": "Liberation Sans", "fontSize": 11, "color": "#000000"}, "encoding": {"x": {"datum": 1, "type": "quantitative", "axis": null}, "text": {"field": "res"}}}
]},
{"width": 32, "height": 38, "data": {"name": "hdr"}, "mark": {"type": "rect", "fill": "#ffffff", "stroke": "#000000", "strokeWidth": 1},
"encoding": {"y": {"field": "row", "type": "ordinal", "axis": null}, "x": {"datum": 0, "type": "quantitative", "scale": {"domain": [0, 1]}, "axis": null}, "x2": {"datum": 1}}}
], "spacing": 0},
{"width": 401, "height": 250, "data": {"name": "mugunghwa"},
"transform": [{"fold": ["lmax", "lmin", "leq"], "as": ["series", "db"]}],
"encoding": {"y": {"field": "db", "type": "quantitative", "scale": {"domain": [30, 100], "zero": false, "nice": false},
"axis": {"values": [30,35,40,45,50,55,60,65,70,75,80,85,90,95,100], "title": null, "offset": 6, "ticks": false, "labelPadding": 2, "labelFlush": true, "labelFont": "Liberation Sans", "labelFontSize": 10.5, "labelColor": "#000000", "domainColor": "#000000", "grid": true, "gridColor": "#000000", "gridDash": [7, 5], "gridOpacity": 1, "zindex": 1}}},
"layer": [
{"transform": [{"filter": "datum.series === 'lmax'"}], "mark": {"type": "bar", "color": "#000000", "width": {"band": 0.46}, "xOffset": -3.35, "clip": true},
"encoding": {"x": {"field": "band", "type": "ordinal", "scale": {"domain": ["16","20","25","31.5","40","50","63","80","100","125","160","200","250","315","400","500","630","800","1 k","1.25 k","1.6 k","2 k","2.5 k","3.15 k","4 k","5 k","6.3 k","8 k","10 k","12.5 k","16 k","20 k"], "paddingInner": 0, "paddingOuter": 0.215, "align": 1},
"axis": {"orient": "bottom", "values": ["16","31.5","63","125","250","500","1 k","2 k","4 k","8 k","16 k"], "labelAngle": 0, "labelOverlap": false, "ticks": false, "domain": false, "grid": false, "labelPadding": 2, "labelFont": "Liberation Sans Narrow, Liberation Sans", "labelFontSize": 10.5, "labelColor": "#000000", "title": "<무궁화 상행>", "titleFont": "Liberation Serif, Noto Sans CJK KR", "titleFontSize": 21, "titleFontWeight": "normal", "titleColor": "#000000", "titlePadding": 27}}}},
{"transform": [{"filter": "datum.series === 'lmin'"}], "mark": {"type": "bar", "color": "#ffff00", "width": {"band": 0.27}, "xOffset": -0.55, "clip": true},
"encoding": {"x": {"field": "band", "type": "ordinal", "axis": {"orient": "top", "values": ["25","50","100","200","400","800","1.6 k","3.15 k","6.3 k","12.5 k"], "bandPosition": 0, "grid": true, "gridColor": "#000000", "gridDash": [7, 5], "gridOpacity": 1, "labels": false, "ticks": false, "domain": false, "title": null, "zindex": 1}}}},
{"transform": [{"filter": "datum.series === 'leq'"}], "mark": {"type": "bar", "color": "#00ffff", "width": {"band": 0.41}, "xOffset": 3.65, "clip": true},
"encoding": {"x": {"field": "band", "type": "ordinal", "axis": null}}}
],
"resolve": {"axis": {"x": "independent"}}}
], "spacing": 0}
], "spacing": 27}
], "spacing": 11},
{"hconcat": [
{"vconcat": [
{"hconcat": [
{"width": 48, "height": 15, "data": {"values": [{"name": "Ch.  1   Leq 500ms", "tail": "A"}]}, "view": {"stroke": null},
"mark": {"type": "text", "align": "right", "dx": -2, "font": "Liberation Sans", "fontSize": 9.5, "color": "#000000"},
"encoding": {"y": {"field": "name", "type": "ordinal", "sort": null, "scale": {"type": "band", "paddingInner": 0, "paddingOuter": 0}, "axis": {"title": null, "domain": false, "ticks": true, "tickBand": "extent", "tickSize": 43, "tickColor": "#000000", "grid": true, "gridColor": "#000000", "gridOpacity": 1, "labelAlign": "left", "labelPadding": -1, "labelFont": "Liberation Sans", "labelFontSize": 9.5, "labelColor": "#000000", "labelLimit": 0, "zindex": 1}},
"x": {"datum": 1, "type": "quantitative", "scale": {"domain": [0, 1]}, "axis": null}, "text": {"field": "tail"}}},
{"width": 123, "height": 15, "data": {"values": [{"text": "MON 04/06/14 10h23m52s000"}]}, "mark": {"type": "text", "font": "Liberation Sans", "fontSize": 9.5, "color": "#000000"},
"encoding": {"x": {"datum": 0.5, "type": "quantitative", "scale": {"domain": [0, 1]}, "axis": null}, "y": {"field": "text", "type": "nominal", "axis": null}, "text": {"field": "text"}}},
{"width": 20, "height": 15, "data": {"values": [{"text": "50.4"}]}, "mark": {"type": "text", "font": "Liberation Sans", "fontSize": 9.5, "color": "#000000"},
"encoding": {"x": {"datum": 0.5, "type": "quantitative", "scale": {"domain": [0, 1]}, "axis": null}, "y": {"field": "text", "type": "nominal", "axis": null}, "text": {"field": "text"}}},
{"width": 16, "height": 15, "data": {"values": [{"text": "dB"}]}, "mark": {"type": "text", "font": "Liberation Sans", "fontSize": 9.5, "color": "#000000"},
"encoding": {"x": {"datum": 0.5, "type": "quantitative", "scale": {"domain": [0, 1]}, "axis": null}, "y": {"field": "text", "type": "nominal", "axis": null}, "text": {"field": "text"}}},
{"width": 124, "height": 15, "data": {"values": [{"text": "MON 04/06/14 11h25m24s500"}]}, "mark": {"type": "text", "font": "Liberation Sans", "fontSize": 9.5, "color": "#000000"},
"encoding": {"x": {"datum": 0.5, "type": "quantitative", "scale": {"domain": [0, 1]}, "axis": null}, "y": {"field": "text", "type": "nominal", "axis": null}, "text": {"field": "text"}}},
{"width": 22, "height": 15, "data": {"values": [{"text": "58.0"}]}, "mark": {"type": "text", "font": "Liberation Sans", "fontSize": 9.5, "color": "#000000"},
"encoding": {"x": {"datum": 0.5, "type": "quantitative", "scale": {"domain": [0, 1]}, "axis": null}, "y": {"field": "text", "type": "nominal", "axis": null}, "text": {"field": "text"}}},
{"width": 12, "height": 15, "data": {"values": [{"text": "dB"}]}, "mark": {"type": "text", "font": "Liberation Sans", "fontSize": 9.5, "color": "#000000"},
"encoding": {"x": {"datum": 0.5, "type": "quantitative", "scale": {"domain": [0, 1]}, "axis": null}, "y": {"field": "text", "type": "nominal", "axis": null}, "text": {"field": "text"}}}
], "spacing": 0},
{"width": 365, "height": 208,
"layer": [
{"data": {"name": "ts"},
"mark": {"type": "line", "color": "#000000", "strokeWidth": 0.8},
"encoding": {
"x": {"field": "minute", "type": "quantitative", "scale": {"domain": [23.867, 85.367], "nice": false, "zero": false},
"axis": {"values": [30, 40, 50, 60, 70, 80], "labelExpr": "datum.value < 60 ? '10h' + datum.value : (datum.value == 60 ? '11h00' : '11h' + (datum.value - 60))", "grid": true, "gridColor": "#000000", "gridDash": [3, 3], "gridOpacity": 1, "domain": false, "ticks": true, "tickSize": 4, "tickColor": "#000000", "labelFont": "Liberation Sans", "labelFontSize": 11, "labelColor": "#000000", "labelPadding": 3, "title": null}},
"y": {"field": "db", "type": "quantitative", "scale": {"domain": [40, 100], "zero": false, "nice": false},
"axis": {"values": [40,50,60,70,80,90,100], "grid": true, "gridColor": "#000000", "gridDash": [2, 2], "gridOpacity": 1, "domain": false, "ticks": false, "labelFont": "Liberation Sans", "labelFontSize": 11, "labelColor": "#000000", "labelPadding": 3, "labelFlush": true, "title": null}}}},
{"data": {"name": "ann"},
"mark": {"type": "rule", "color": "#000000", "strokeWidth": 0.8},
"encoding": {"x": {"field": "minute", "type": "quantitative"}, "y": {"field": "db", "type": "quantitative"}, "x2": {"field": "bt1"}, "y2": {"field": "bdb1"}}},
{"data": {"name": "ann"},
"transform": [{"filter": "datum.label !== '경적소리'"}],
"mark": {"type": "rule", "color": "#000000", "strokeWidth": 0.8},
"encoding": {"x": {"field": "minute", "type": "quantitative"}, "y": {"field": "db", "type": "quantitative"}, "x2": {"field": "bt1"}, "y2": {"field": "bdb2"}}},
{"data": {"name": "ann"},
"mark": {"type": "rect", "fill": "#ffffff", "stroke": "#000000", "strokeWidth": 1},
"encoding": {"x": {"field": "bt1", "type": "quantitative"}, "x2": {"field": "bt2"}, "y": {"field": "bdb1", "type": "quantitative"}, "y2": {"field": "bdb2"}}},
{"data": {"name": "ann"},
"mark": {"type": "text", "align": "left", "baseline": "middle", "dx": 2, "dy": 14, "font": "Noto Sans CJK KR", "fontSize": 9.5, "color": "#000000"},
"encoding": {"x": {"field": "bt1", "type": "quantitative"}, "y": {"field": "bdb1", "type": "quantitative"}, "text": {"field": "label"}}}
]},
{"width": 365, "height": 6, "data": {"values": [{"ch": "OVL", "minute": 58.567}]},
"mark": {"type": "tick", "color": "#ff0000", "thickness": 1, "size": 6},
"encoding": {"x": {"field": "minute", "type": "quantitative", "scale": {"domain": [23.867, 85.367], "nice": false, "zero": false}, "axis": null},
"y": {"field": "ch", "type": "nominal", "axis": {"title": null, "ticks": false, "domain": false, "labelFont": "Liberation Sans", "labelFontSize": 11, "labelColor": "#000000", "labelPadding": 5}}}},
{"width": 365, "height": 6, "data": {"values": [{"ch": "Audio", "minute": 30.767}, {"ch": "Audio", "minute": 34.933}, {"ch": "Audio", "minute": 40.533}, {"ch": "Audio", "minute": 48.267}, {"ch": "Audio", "minute": 55.567}, {"ch": "Audio", "minute": 58.567}, {"ch": "Audio", "minute": 60.533}, {"ch": "Audio", "minute": 65.017}]},
"mark": {"type": "tick", "color": "#22dd22", "thickness": 1.5, "size": 6},
"encoding": {"x": {"field": "minute", "type": "quantitative", "scale": {"domain": [23.867, 85.367], "nice": false, "zero": false}, "axis": null},
"y": {"field": "ch", "type": "nominal", "axis": {"title": null, "ticks": false, "domain": false, "labelFont": "Liberation Sans", "labelFontSize": 11, "labelColor": "#000000", "labelPadding": 3}}}}
], "spacing": 4},
{"width": 409, "height": 256, "data": {"name": "spec"},
"transform": [{"fold": ["경적소리(96)", "화물차(92)", "무궁화(90)", "새마을(81)", "KTX(79)", "암소음(50)"], "as": ["series", "db"]}],
"encoding": {
"x": {"field": "band", "type": "ordinal", "sort": null, "scale": {"type": "point", "padding": 0.18},
"axis": {"labelAngle": -90, "labelOverlap": false, "labelFont": "Liberation Sans", "labelFontStyle": "italic", "labelFontSize": 9, "labelColor": "#555555", "ticks": true, "tickSize": 3, "tickColor": "#000000", "domain": false, "grid": false, "title": null, "labelPadding": 4}},
"y": {"field": "db", "type": "quantitative", "scale": {"domain": [0, 120], "nice": false},
"axis": {"values": [0,20,40,60,80,100,120], "grid": true, "gridColor": "#000000", "gridDash": [8, 6], "gridOpacity": 1, "ticks": false, "domain": false, "labelFont": "Liberation Sans", "labelFontSize": 9, "labelColor": "#444444", "labelPadding": 4, "title": "dB(LAin)", "titleFont": "Liberation Sans", "titleFontSize": 9, "titleFontWeight": "normal", "titleColor": "#666666", "titlePadding": 3}},
"stroke": {"field": "series", "type": "nominal", "scale": {"domain": ["경적소리(96)", "화물차(92)", "무궁화(90)", "새마을(81)", "KTX(79)", "암소음(50)"], "range": ["#000000", "#993399", "#990000", "#339999", "#0000ff", "#000099"]},
"legend": {"orient": "none", "legendX": 501, "legendY": 1009, "direction": "horizontal", "columns": 3, "title": null, "labelFont": "Noto Sans CJK KR", "labelFontSize": 8.5, "labelColor": "#333333", "symbolSize": 30, "symbolStrokeWidth": 1, "columnPadding": 24, "rowPadding": 3, "gridAlign": "all", "labelOffset": 4}}
},
"layer": [
{"mark": {"type": "line", "strokeWidth": 1}},
{"mark": {"type": "point", "filled": true, "size": 30, "strokeWidth": 1, "opacity": 1},
"encoding": {
"fill": {"field": "series", "type": "nominal", "scale": {"domain": ["경적소리(96)", "화물차(92)", "무궁화(90)", "새마을(81)", "KTX(79)", "암소음(50)"], "range": ["#ffffff", "#ffffff", "#660000", "#ffffff", "#800000", "#ffffff"]},
"legend": {"orient": "none", "legendX": 501, "legendY": 1009, "direction": "horizontal", "columns": 3, "title": null, "labelFont": "Noto Sans CJK KR", "labelFontSize": 8.5, "labelColor": "#333333", "symbolSize": 30, "symbolStrokeWidth": 1, "columnPadding": 24, "rowPadding": 3, "gridAlign": "all", "labelOffset": 4}},
"shape": {"field": "series", "type": "nominal", "scale": {"domain": ["경적소리(96)", "화물차(92)", "무궁화(90)", "새마을(81)", "KTX(79)", "암소음(50)"], "range": ["triangle-up", "square", "triangle-up", "circle", "circle", "diamond"]},
"legend": {"orient": "none", "legendX": 501, "legendY": 1009, "direction": "horizontal", "columns": 3, "title": null, "labelFont": "Noto Sans CJK KR", "labelFontSize": 8.5, "labelColor": "#333333", "symbolSize": 30, "symbolStrokeWidth": 1, "columnPadding": 24, "rowPadding": 3, "gridAlign": "all", "labelOffset": 4}}
}}
]}
], "spacing": 60}
],
"spacing": 62,
"config": {
"view": {"stroke": "#000000", "strokeWidth": 1},
"axis": {"domainColor": "#000000", "tickColor": "#000000", "labelColor": "#000000", "titleColor": "#000000"}
}
}
